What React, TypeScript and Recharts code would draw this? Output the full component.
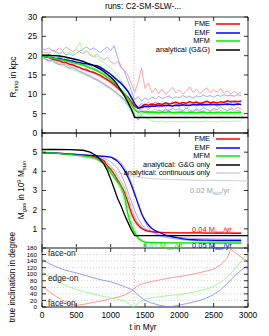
import { CartesianGrid, Legend, Line, LineChart, ReferenceArea, ReferenceLine, XAxis, YAxis } from "recharts"

const FONT = '"Liberation Sans", Arial, sans-serif'
const FS = 8.3
const LEGEND_FS = 7.4
const ROW_H = 8.5

// ---- panel 1: stripping radius (kpc), sampled every 50 Myr ----
const rTime = [
  0, 50, 100, 150, 200, 250, 300, 350, 400, 450,
  500, 550, 600, 650, 700, 750, 800, 850, 900, 950,
  1000, 1050, 1100, 1150, 1200, 1250, 1300, 1350, 1400, 1450,
  1500, 1550, 1600, 1650, 1700, 1750, 1800, 1850, 1900, 1950,
  2000, 2050, 2100, 2150, 2200, 2250, 2300, 2350, 2400, 2450,
  2500, 2550, 2600, 2650, 2700, 2750, 2800, 2850, 2900, 2950, 3000,
]
const rAnalytic = [
  20.1, 20.1, 20.1, 20.0, 20.0, 19.9, 19.8, 19.6, 19.4, 19.2,
  19.0, 18.8, 18.5, 18.1, 17.8, 17.4, 17.0, 16.5, 15.9, 15.2,
  14.5, 13.6, 12.4, 11.0, 9.6, 8.0, 6.2, 4.0, 4.0, 4.0,
  4.0, 4.0, 4.0, 4.0, 4.0, 4.0, 4.0, 4.0, 4.0, 4.0,
  4.0, 4.0, 4.0, 4.0, 4.0, 4.0, 4.0, 4.0, 4.0, 4.0,
  4.0, 4.0, 4.0, 4.0, 4.0, 4.0, 4.0, 4.0, 4.0, 4.0, 4.0,
]
const rFmeMean = [
  20.0, 19.7, 19.5, 19.1, 18.9, 18.7, 18.3, 18.2, 17.8, 17.6,
  17.2, 16.9, 16.5, 16.3, 15.9, 15.7, 15.3, 14.9, 14.3, 13.8,
  13.2, 12.5, 11.7, 10.9, 10.1, 9.3, 8.0, 6.9, 6.4, 6.9,
  7.4, 7.2, 7.5, 7.3, 7.6, 7.4, 7.8, 7.5, 7.7, 8.0,
  7.6, 7.9, 7.7, 8.1, 7.8, 8.0, 7.6, 7.9, 8.2, 7.8,
  8.0, 7.7, 8.1, 7.9, 8.3, 8.0, 8.2, 8.1, 8.3,
]
const rEmfMean = [
  20.0, 19.8, 19.6, 19.5, 19.2, 19.3, 19.0, 18.9, 18.7, 18.6,
  18.3, 18.2, 18.0, 17.9, 17.7, 17.5, 17.4, 17.0, 16.4, 15.8,
  15.2, 14.4, 13.6, 12.8, 11.9, 10.8, 9.3, 7.6, 6.4, 6.6,
  6.9, 6.8, 7.0, 6.9, 7.1, 7.0, 7.2, 7.1, 7.0, 7.2,
  7.1, 7.3, 7.2, 7.2, 7.3, 7.4, 7.3, 7.4, 7.3, 7.4,
  7.4, 7.3, 7.4, 7.4, 7.5, 7.4, 7.4, 7.5, 7.4,
]
const rMfmMean = [
  20.0, 19.7, 19.6, 19.4, 19.2, 19.0, 18.9, 18.6, 18.4, 18.2,
  18.0, 17.8, 17.5, 17.2, 16.8, 16.5, 16.1, 15.6, 15.1, 14.4,
  13.8, 13.0, 12.1, 11.2, 10.2, 9.0, 7.5, 6.0, 5.3, 5.6,
  5.4, 5.5, 5.3, 5.4, 5.2, 5.4, 5.3, 5.5, 5.3, 5.2,
  5.4, 5.3, 5.2, 5.4, 5.3, 5.2, 5.3, 5.4, 5.2, 5.3,
  5.2, 5.3, 5.2, 5.3, 5.2, 5.3, 5.2, 5.3, 5.3,
]
const rFme1 = [
  20.5, 21.0, 20.6, 21.5, 21.2, 22.0, 21.4, 22.3, 21.6, 21.0,
  21.8, 20.9, 20.5, 21.2, 20.3, 19.8, 20.4, 19.5, 18.9, 19.6,
  18.4, 17.8, 18.5, 16.9, 16.2, 15.0, 12.8, 10.5, 13.2, 16.8,
  11.5, 12.9, 10.4, 11.6, 10.2, 11.4, 10.0, 10.9, 11.8, 10.3,
  11.2, 10.1, 10.8, 11.9, 10.5, 11.3, 10.2, 11.0, 11.7, 10.4,
  11.1, 10.6, 11.5, 10.3, 10.9, 10.1, 10.8, 10.2, 10.6,
]
const rFme2 = [
  19.8, 19.5, 19.9, 19.2, 19.0, 18.6, 18.9, 18.2, 17.8, 18.1,
  17.3, 17.0, 16.4, 16.7, 15.9, 15.5, 15.0, 14.6, 13.9, 13.5,
  12.8, 12.1, 11.4, 10.6, 9.5, 8.3, 7.1, 5.9, 5.5, 6.2,
  6.8, 6.1, 6.9, 7.4, 6.5, 7.2, 6.6, 7.5, 6.9, 7.6,
  6.8, 7.3, 6.4, 7.0, 7.7, 6.7, 7.4, 6.9, 7.8, 7.0,
  7.5, 6.8, 7.3, 7.9, 7.1, 7.6, 7.0, 7.7, 7.4,
]
const rFme3 = [
  19.6, 19.2, 18.8, 18.9, 18.3, 18.0, 17.6, 17.7, 17.1, 16.8,
  16.5, 16.0, 15.7, 15.2, 14.8, 14.3, 13.9, 13.4, 12.8, 12.3,
  11.7, 11.0, 10.3, 9.6, 8.7, 7.5, 6.2, 5.0, 4.6, 5.3,
  5.8, 5.1, 5.6, 5.0, 5.7, 5.2, 5.9, 5.4, 5.0, 5.6,
  5.2, 5.8, 5.3, 5.0, 5.5, 5.9, 5.3, 5.7, 5.1, 5.6,
  6.0, 5.4, 5.8, 5.2, 5.7, 6.1, 5.5, 5.9, 5.6,
]
const rEmf1 = [
  21.8, 21.5, 22.0, 21.3, 21.0, 20.6, 20.9, 20.2, 20.5, 20.0,
  20.6, 21.2, 21.7, 22.3, 21.5, 22.0, 21.4, 20.8, 21.6, 22.2,
  21.3, 22.6, 19.5, 17.2, 16.0, 13.5, 11.0, 8.6, 9.4, 8.3,
  9.1, 8.6, 9.3, 8.8, 9.5, 8.9, 9.2, 9.6, 8.9, 9.4,
  9.1, 9.7, 9.2, 9.5, 9.0, 9.6, 9.3, 9.8, 9.4, 9.7,
  9.2, 9.8, 9.5, 9.9, 9.6, 9.8, 9.5, 9.9, 9.7,
]
const rEmf2 = [
  20.2, 19.9, 20.3, 19.6, 19.8, 19.2, 19.5, 18.8, 19.0, 18.4,
  18.6, 18.0, 17.8, 17.3, 17.5, 16.8, 16.4, 15.9, 15.6, 14.8,
  14.3, 13.7, 12.9, 13.4, 11.6, 10.9, 9.0, 7.3, 6.8, 7.6,
  7.2, 7.9, 7.4, 8.0, 7.5, 7.1, 7.8, 7.3, 8.1, 7.6,
  7.2, 7.9, 7.4, 8.2, 7.7, 7.3, 8.0, 7.5, 8.3, 7.8,
  7.4, 8.1, 7.6, 8.2, 7.7, 8.4, 7.9, 8.2, 8.0,
]
const rEmf3 = [
  19.5, 19.0, 18.6, 18.8, 18.1, 17.7, 17.9, 17.2, 16.8, 16.9,
  16.3, 15.9, 15.5, 15.0, 14.7, 14.1, 13.7, 13.2, 12.6, 12.0,
  11.5, 10.8, 10.1, 9.3, 8.4, 7.3, 6.0, 4.6, 3.3, 4.8,
  5.4, 4.9, 5.7, 5.2, 6.0, 5.5, 6.2, 5.8, 6.4, 5.9,
  6.3, 5.7, 6.5, 6.0, 5.6, 6.3, 5.8, 6.6, 6.1, 5.7,
  6.4, 6.0, 6.7, 6.2, 5.8, 6.5, 6.1, 6.6, 6.2,
]
const rMfm1 = [
  20.3, 20.0, 20.5, 19.9, 20.8, 20.2, 21.3, 20.6, 21.0, 20.4,
  22.0, 23.5, 20.9, 21.4, 20.1, 19.6, 19.9, 18.7, 18.2, 17.5,
  16.9, 15.8, 14.9, 13.6, 12.4, 10.5, 8.6, 6.4, 5.8, 6.3,
  5.6, 6.1, 5.5, 6.2, 5.7, 6.0, 5.4, 6.1, 5.8, 5.3,
  5.9, 5.5, 6.0, 5.6, 5.2, 5.8, 5.4, 5.9, 5.5, 5.1,
  5.7, 5.3, 5.8, 5.4, 5.0, 5.6, 5.2, 5.7, 5.4,
]
const rMfm2 = [
  19.4, 19.1, 18.7, 18.4, 18.0, 17.6, 17.3, 16.9, 16.6, 16.3,
  15.9, 15.6, 15.2, 14.8, 14.5, 14.0, 13.6, 13.1, 12.5, 11.9,
  11.3, 10.6, 9.8, 9.0, 8.0, 6.8, 5.5, 4.3, 3.6, 4.5,
  4.0, 3.6, 3.1, 3.0, 2.9, 3.1, 2.8, 3.0, 2.9, 3.1,
  2.8, 3.0, 2.9, 3.1, 2.8, 3.0, 2.9, 3.0, 3.1, 2.9,
  3.0, 2.8, 3.0, 3.1, 2.9, 3.0, 3.1, 3.0, 3.2,
]
const rMfm3 = [
  19.9, 20.2, 19.7, 20.0, 19.5, 19.8, 19.1, 19.4, 18.7, 18.9,
  18.2, 18.5, 17.8, 17.6, 17.0, 16.7, 16.0, 15.5, 15.0, 14.3,
  13.6, 12.9, 12.0, 11.0, 9.9, 8.5, 7.0, 5.2, 4.4, 4.9,
  5.5, 5.0, 4.6, 5.2, 4.8, 5.4, 4.9, 4.5, 5.1, 4.7,
  5.3, 4.8, 4.4, 5.0, 4.6, 5.2, 4.7, 4.3, 4.9, 4.5,
  5.1, 4.6, 4.2, 4.8, 4.4, 5.0, 4.5, 4.9, 4.6,
]

// ---- panel 2: gas mass (1e9 Msun) ----
const mTime = [
  0, 200, 400, 600, 700, 800, 900, 950, 1000, 1050,
  1100, 1150, 1200, 1250, 1300, 1350, 1400, 1450, 1500, 1550,
  1600, 1700, 1800, 2000, 2200, 2400, 2600, 2800, 2900, 3000,
]
const mGG = [
  5.14, 5.14, 5.13, 5.1, 5.0, 4.8, 4.4, 4.05, 3.6, 3.1,
  2.6, 2.2, 1.75, 1.35, 0.95, 0.65, 0.65, 0.65, 0.65, 0.65,
  0.65, 0.65, 0.65, 0.65, 0.65, 0.65, 0.65, 0.65, 0.65, 0.65,
]
const mContinuous = [
  5.0, 4.96, 4.9, 4.8, 4.72, 4.6, 4.42, 4.3, 4.17, 4.05,
  3.96, 3.89, 3.83, 3.79, 3.76, 3.73, 3.7, 3.68, 3.66, 3.64,
  3.62, 3.6, 3.58, 3.56, 3.54, 3.53, 3.52, 3.51, 3.5, 3.5,
]
const mFme = [
  4.98, 4.95, 4.9, 4.85, 4.8, 4.72, 4.55, 4.3, 4.1, 3.85,
  3.55, 3.25, 2.9, 2.4, 1.85, 1.45, 1.2, 1.03, 0.93, 0.88,
  0.85, 0.81, 0.8, 0.79, 0.79, 0.78, 0.78, 0.77, 0.77,
]
const mEmf = [
  4.98, 4.95, 4.9, 4.85, 4.83, 4.8, 4.78, 4.76, 4.74, 4.65,
  4.52, 4.32, 4.05, 3.7, 3.3, 2.8, 2.3, 1.8, 1.45, 1.2,
  1.02, 0.82, 0.67, 0.52, 0.43, 0.41, 0.4, 0.4, 0.4,
]
const mMfm = [
  4.98, 4.95, 4.88, 4.8, 4.75, 4.65, 4.4, 4.2, 3.95, 3.7,
  3.45, 3.2, 2.7, 1.8, 1.2, 0.8, 0.52, 0.38, 0.31, 0.29,
  0.28, 0.28, 0.27, 0.27, 0.27, 0.26, 0.26, 0.26, 0.26,
]
const mFme1 = [
  4.96, 4.92, 4.86, 4.78, 4.72, 4.6, 4.4, 4.2, 3.95, 3.7,
  3.4, 3.1, 2.7, 2.2, 1.7, 1.35, 1.12, 0.98, 0.9, 0.86,
  0.83, 0.8, 0.79, 0.78, 0.78, 0.77, 0.77, 0.76, 0.76,
]
const mFme2 = [
  4.99, 4.96, 4.92, 4.87, 4.83, 4.76, 4.6, 4.45, 4.28, 4.05,
  3.78, 3.5, 3.15, 2.7, 2.1, 1.6, 1.3, 1.1, 0.98, 0.92,
  0.88, 0.84, 0.82, 0.81, 0.8, 0.8, 0.79, 0.79, 0.79,
]
const mEmf1 = [
  4.98, 4.94, 4.88, 4.82, 4.79, 4.75, 4.68, 4.6, 4.5, 4.35,
  4.15, 3.85, 3.45, 2.95, 2.45, 1.95, 1.55, 1.25, 1.05, 0.92,
  0.82, 0.7, 0.62, 0.55, 0.5, 0.48, 0.47, 0.46, 0.46,
]
const mEmf2 = [
  4.97, 4.94, 4.9, 4.86, 4.84, 4.82, 4.8, 4.78, 4.76, 4.7,
  4.6, 4.45, 4.2, 3.85, 3.4, 2.9, 2.35, 1.8, 1.35, 1.05,
  0.85, 0.65, 0.55, 0.45, 0.38, 0.36, 0.35, 0.34, 0.34,
]
const mMfm1 = [
  4.97, 4.93, 4.86, 4.77, 4.7, 4.58, 4.3, 4.1, 3.85, 3.6,
  3.35, 3.0, 2.4, 1.6, 1.05, 0.7, 0.48, 0.36, 0.3, 0.28,
  0.27, 0.27, 0.26, 0.26, 0.26, 0.25, 0.25, 0.25, 0.25,
]
const mMfm2 = [
  4.99, 4.96, 4.9, 4.83, 4.78, 4.7, 4.5, 4.32, 4.1, 3.85,
  3.6, 3.35, 3.0, 2.2, 1.45, 0.95, 0.62, 0.45, 0.36, 0.32,
  0.3, 0.29, 0.29, 0.28, 0.28, 0.28, 0.27, 0.27, 0.27,
]

// ---- panel 3: true inclination (deg) ----
const iTime = [
  0, 100, 200, 300, 400, 500, 600, 700, 800, 900,
  1000, 1100, 1200, 1300, 1330, 1400, 1500, 1600, 1700, 1800,
  1850, 1900, 2000, 2100, 2200, 2300, 2400, 2500, 2600, 2700,
  2750, 2800, 2900, 3000,
]
const iFme = [
  63, 48, 33, 20, 10, 5, 8, 12, 16, 20,
  25, 30, 36, 48, 54, 66, 73, 78, 82, 86,
  88, 90, 93, 96, 100, 105, 110, 116, 128, 150,
  177, 168, 152, 138,
]
const iEmf = [
  146, 133, 123, 115, 109, 104, 98, 92, 86, 81,
  77, 70, 62, 54, 50, 36, 20, 12, 6, 2,
  0, 2, 6, 10, 15, 20, 28, 38, 52, 72,
  83, 94, 112, 127,
]
const iMfm = [
  108, 93, 81, 70, 61, 53, 47, 42, 37, 32,
  28, 24, 18, 5, 0, 12, 24, 28, 31, 34,
  35, 36, 38, 41, 45, 50, 55, 63, 75, 92,
  102, 114, 140, 165,
]

const xTicks = [0, 500, 1000, 1500, 2000, 2500, 3000]
const rTicks = [0, 5, 10, 15, 20, 25, 30]
const mTicks = [1, 2, 3, 4, 5]
const iTicks = [0, 20, 40, 60, 80, 100, 120, 140, 160, 180]
const transitTime = 1340

const RED = "#ff0000"
const BLUE = "#0000ff"
const GREEN = "#00ee00"
const PALE_RED = "#ff8f8f"
const PALE_BLUE = "#8f8fff"
const PALE_GREEN = "#8fff8f"

const legend1 = [
  { name: "FME", color: RED },
  { name: "EMF", color: BLUE },
  { name: "MFM", color: GREEN },
  { name: "analytical (G&G)", color: "#000" },
]
const legend2 = [
  { name: "FME", color: RED },
  { name: "EMF", color: BLUE },
  { name: "MFM", color: GREEN },
  { name: "analytical: G&G only", color: "#000" },
  { name: "analytical: continuous only", color: "#d0d0d0" },
]

const rRows = rTime.map((t, i) => ({
  t,
  gg: rAnalytic[i] ?? null,
  fme: rFmeMean[i] ?? null,
  emf: rEmfMean[i] ?? null,
  mfm: rMfmMean[i] ?? null,
  fme1: rFme1[i] ?? null,
  fme2: rFme2[i] ?? null,
  fme3: rFme3[i] ?? null,
  emf1: rEmf1[i] ?? null,
  emf2: rEmf2[i] ?? null,
  emf3: rEmf3[i] ?? null,
  mfm1: rMfm1[i] ?? null,
  mfm2: rMfm2[i] ?? null,
  mfm3: rMfm3[i] ?? null,
}))

const mRows = mTime.map((t, i) => ({
  t,
  gg: mGG[i] ?? null,
  cont: mContinuous[i] ?? null,
  fme: mFme[i] ?? null,
  emf: mEmf[i] ?? null,
  mfm: mMfm[i] ?? null,
  fme1: mFme1[i] ?? null,
  fme2: mFme2[i] ?? null,
  emf1: mEmf1[i] ?? null,
  emf2: mEmf2[i] ?? null,
  mfm1: mMfm1[i] ?? null,
  mfm2: mMfm2[i] ?? null,
}))

const iRows = iTime.map((t, i) => ({ t, fme: iFme[i], emf: iEmf[i], mfm: iMfm[i] }))

const PL = 42
const PR = 248

function makeXTick(top: number, bottom: number, labels: boolean) {
  return function XTick(props: any) {
    const { x, payload } = props
    return (
      <g>
        <line x1={x} x2={x} y1={bottom} y2={bottom - 4} stroke="#000" strokeWidth={0.8} />
        <line x1={x} x2={x} y1={top} y2={top + 4} stroke="#000" strokeWidth={0.8} />
        {labels && (
          <text x={x} y={bottom + 11} textAnchor="middle" fontSize={FS} fontFamily={FONT} fill="#000">
            {payload.value}
          </text>
        )}
      </g>
    )
  }
}

function makeYTick(fontSize: number) {
  return function YTick(props: any) {
    const { y, payload } = props
    return (
      <g>
        <line x1={PL} x2={PL + 4} y1={y} y2={y} stroke="#000" strokeWidth={0.8} />
        <line x1={PR} x2={PR - 4} y1={y} y2={y} stroke="#000" strokeWidth={0.8} />
        <text x={PL - 5} y={y} dy="0.35em" textAnchor="end" fontSize={fontSize} fontFamily={FONT} fill="#000">
          {payload.value}
        </text>
      </g>
    )
  }
}

function LegendBox({ items }: { items: { name: string; color: string }[] }) {
  return (
    <div style={{ fontFamily: FONT, fontSize: LEGEND_FS, color: "#000" }}>
      {items.map((it) => (
        <div key={it.name} style={{ display: "flex", justifyContent: "flex-end", alignItems: "center", height: ROW_H, whiteSpace: "nowrap" }}>
          <span style={{ lineHeight: `${ROW_H}px` }}>{it.name}</span>
          <svg width={26} height={6} style={{ marginLeft: 5, display: "block" }}>
            <line x1={1} x2={25} y1={3} y2={3} stroke={it.color} strokeWidth={1.5} />
          </svg>
        </div>
      ))}
    </div>
  )
}

function thin(key: string, color: string) {
  return (
    <Line key={key} type="linear" dataKey={key} stroke={color} strokeWidth={0.8} dot={false} isAnimationActive={false} connectNulls={false} />
  )
}

function thick(key: string, color: string, w = 1.5, type: any = "linear") {
  return (
    <Line key={key} type={type} dataKey={key} stroke={color} strokeWidth={w} dot={false} isAnimationActive={false} connectNulls={false} />
  )
}

function RStripPanel() {
  // plot area: y 17..133 on page
  return (
    <div style={{ position: "absolute", left: 0, top: 0 }}>
      <LineChart width={269} height={140} data={rRows} margin={{ top: 17, right: 269 - PR, bottom: 0, left: 0 }}>
        <XAxis dataKey="t" type="number" domain={[0, 3000]} ticks={xTicks} interval={0} height={7} axisLine={false} tickLine={false} tick={makeXTick(17, 133, false)} />
        <YAxis type="number" domain={[0, 30]} ticks={rTicks} interval={0} width={PL} axisLine={false} tickLine={false} tick={makeYTick(FS)} />
        <ReferenceLine x={transitTime} stroke="#aaa" strokeWidth={0.7} strokeDasharray="1.5 1.5" />
        {thin("fme1", PALE_RED)}
        {thin("emf1", PALE_BLUE)}
        {thin("mfm1", PALE_GREEN)}
        {thin("fme2", PALE_RED)}
        {thin("emf2", PALE_BLUE)}
        {thin("mfm2", PALE_GREEN)}
        {thin("fme3", PALE_RED)}
        {thin("emf3", PALE_BLUE)}
        {thin("mfm3", PALE_GREEN)}
        {thick("fme", RED)}
        {thick("emf", BLUE)}
        {thick("mfm", GREEN)}
        {thick("gg", "#000", 1.4)}
        <ReferenceArea x1={0} x2={3000} y1={0} y2={30} fill="none" stroke="#000" strokeWidth={0.8} />
        <Legend
          layout="horizontal"
          verticalAlign="middle"
          align="center"
          wrapperStyle={{ left: 101, top: 20, width: 140 }}
          content={() => <LegendBox items={legend1} />}
        />
      </LineChart>
    </div>
  )
}

function MassPanel() {
  // chart top at page y 120; plot area y 133..248
  return (
    <div style={{ position: "absolute", left: 0, top: 120 }}>
      <LineChart width={269} height={140} data={mRows} margin={{ top: 13, right: 269 - PR, bottom: 0, left: 0 }}>
        <XAxis dataKey="t" type="number" domain={[0, 3000]} ticks={xTicks} interval={0} height={12} axisLine={false} tickLine={false} tick={makeXTick(13, 128, false)} />
        <YAxis type="number" domain={[0, 6]} ticks={mTicks} interval={0} width={PL} axisLine={false} tickLine={false} tick={makeYTick(FS)} />
        <ReferenceLine x={transitTime} stroke="#aaa" strokeWidth={0.7} strokeDasharray="1.5 1.5" />
        {thick("cont", "#d0d0d0", 1.0, "monotone")}
        {thin("fme1", PALE_RED)}
        {thin("fme2", PALE_RED)}
        {thin("emf1", PALE_BLUE)}
        {thin("emf2", PALE_BLUE)}
        {thin("mfm1", PALE_GREEN)}
        {thin("mfm2", PALE_GREEN)}
        {thick("fme", RED, 1.3, "monotone")}
        {thick("emf", BLUE, 1.3, "monotone")}
        {thick("mfm", GREEN, 1.3, "monotone")}
        {thick("gg", "#000", 1.3)}
        <ReferenceArea x1={0} x2={3000} y1={0} y2={6} fill="none" stroke="#000" strokeWidth={0.8} />
        <Legend
          layout="horizontal"
          verticalAlign="middle"
          align="center"
          wrapperStyle={{ left: 91, top: 15, width: 150 }}
          content={() => <LegendBox items={legend2} />}
        />
      </LineChart>
    </div>
  )
}

function InclinationPanel() {
  // chart top at page y 240; plot area y 248..307
  return (
    <div style={{ position: "absolute", left: 0, top: 240 }}>
      <LineChart width={269} height={96} data={iRows} margin={{ top: 8, right: 269 - PR, bottom: 0, left: 0 }}>
        <CartesianGrid vertical={false} stroke="#b0b0b0" strokeWidth={0.6} strokeDasharray="1 2" />
        <XAxis dataKey="t" type="number" domain={[0, 3000]} ticks={xTicks} interval={0} height={29} axisLine={false} tickLine={false} tick={makeXTick(8, 67, true)} />
        <YAxis type="number" domain={[0, 180]} ticks={iTicks} interval={0} width={PL} axisLine={false} tickLine={false} tick={makeYTick(6.2)} />
        <ReferenceLine x={transitTime} stroke="#aaa" strokeWidth={0.7} strokeDasharray="1.5 1.5" />
        <ReferenceArea x1={0} x2={3000} y1={0} y2={180} fill="none" stroke="#000" strokeWidth={0.8} />
        <ReferenceLine y={180} stroke="#8a8a8a" strokeWidth={2} />
        <ReferenceLine y={0} stroke="#8a8a8a" strokeWidth={2} />
        {thin("fme", "#ff7f7f")}
        {thin("mfm", "#7fff7f")}
        {thin("emf", "#7f7fff")}
      </LineChart>
    </div>
  )
}

function Overlay() {
  const t = { fontFamily: FONT, fontSize: FS, fill: "#000" }
  const rate = { fontFamily: FONT, fontSize: 7.5 }
  const sub = 5.8
  return (
    <svg width={269} height={336} style={{ position: "absolute", left: 0, top: 0, pointerEvents: "none" }}>
      <text x={143} y={8.5} textAnchor="middle" {...t}>runs: C2-SM-SLW-...</text>
      <text transform="translate(16,77) rotate(-90)" textAnchor="middle" {...t}>
        R<tspan fontSize={sub} dy={2}>strip</tspan>
        <tspan dy={-2}> in kpc</tspan>
      </text>
      <text transform="translate(24,190) rotate(-90)" textAnchor="middle" {...t}>
        M<tspan fontSize={sub} dy={2}>gas</tspan>
        <tspan dy={-2}> in 10</tspan>
        <tspan fontSize={sub} dy={-3}>9</tspan>
        <tspan dy={3}> M</tspan>
        <tspan fontSize={sub} dy={2}>sun</tspan>
      </text>
      <text transform="translate(15,277) rotate(-90)" textAnchor="middle" {...t}>true inclination in degree</text>
      <text x={143} y={330} textAnchor="middle" {...t}>t in Myr</text>

      <text x={190} y={193} {...rate} fill="#a0a0a0">
        0.02 M<tspan fontSize={5.3} dy={2}>sun</tspan>
        <tspan dy={-2}>/yr</tspan>
      </text>
      <text x={192} y={232} {...rate} fill={RED}>
        0.04 M<tspan fontSize={5.3} dy={2}>sun</tspan>
        <tspan dy={-2}>/yr</tspan>
      </text>
      <text x={143} y={247.5} {...rate} fill={GREEN}>
        0.01 M<tspan fontSize={5.3} dy={2}>sun</tspan>
        <tspan dy={-2}>/yr</tspan>
      </text>
      <text x={192} y={248} {...rate} fill={BLUE}>
        0.05 M<tspan fontSize={5.3} dy={2}>sun</tspan>
        <tspan dy={-2}>/yr</tspan>
      </text>

      <text x={48} y={255.5} {...t} fill="#222">face-on</text>
      <text x={48} y={281} {...t} fill="#222">edge-on</text>
      <text x={48} y={306} {...t} fill="#222">face-on</text>
    </svg>
  )
}

export default function App() {
  return (
    <div style={{ position: "absolute", left: 0, top: 0, width: 269, height: 336, background: "#fff", overflow: "hidden" }}>
      <RStripPanel />
      <MassPanel />
      <InclinationPanel />
      <Overlay />
    </div>
  )
}
